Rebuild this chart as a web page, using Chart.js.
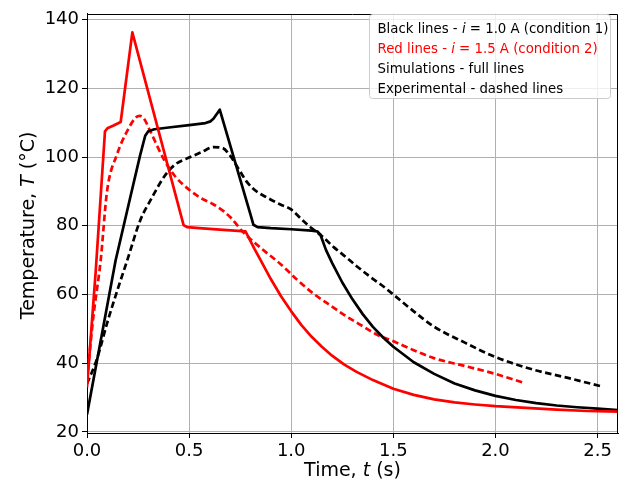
<!DOCTYPE html>
<html>
<head>
<meta charset="utf-8">
<script src="https://cdn.jsdelivr.net/npm/chart.js@4.4.0/dist/chart.umd.min.js"></script>
<style>
html,body{margin:0;padding:0;background:#fff;}
#wrap{width:627px;height:484px;position:relative;}
</style>
</head>
<body>
<div id="wrap"><canvas id="c" width="627" height="484"></canvas></div>
<script>
// ---- Data (time in s, temperature in °C) ----
const simBlackT = [0, 0.07, 0.14, 0.21, 0.26, 0.285, 0.3, 0.33, 0.4, 0.5, 0.58, 0.605, 0.62, 0.65, 0.73, 0.8, 0.815, 0.835, 0.9, 1.0, 1.1, 1.127, 1.143, 1.17, 1.2, 1.25, 1.3, 1.35, 1.4, 1.45, 1.5, 1.6, 1.7, 1.8, 1.9, 2.0, 2.1, 2.2, 2.3, 2.4, 2.5, 2.6];
const simBlackY = [25.1, 47.5, 69.9, 87.8, 100.5, 106.2, 107.5, 108.1, 108.6, 109.3, 109.9, 110.4, 111.2, 113.8, 97.6, 83.4, 80.3, 79.6, 79.3, 79.0, 78.6, 78.4, 77.4, 73.0, 69.2, 63.5, 58.6, 54.3, 50.6, 47.5, 44.8, 40.3, 36.9, 34.1, 32.1, 30.5, 29.3, 28.4, 27.7, 27.2, 26.8, 26.4];

const simRedT = [0, 0.043, 0.088, 0.1, 0.13, 0.165, 0.222, 0.473, 0.49, 0.55, 0.65, 0.776, 0.79, 0.82, 0.85, 0.9, 0.95, 1.0, 1.05, 1.1, 1.15, 1.2, 1.26, 1.32, 1.4, 1.5, 1.6, 1.7, 1.8, 1.9, 2.0, 2.15, 2.3, 2.45, 2.6];
const simRedY = [33, 67, 107.5, 108.4, 109.2, 110.2, 136.3, 80.2, 79.6, 79.3, 78.9, 78.4, 76.8, 73.3, 70.0, 64.5, 59.5, 55.1, 51.1, 47.7, 44.8, 42.2, 39.6, 37.5, 35.1, 32.6, 30.8, 29.5, 28.6, 28.0, 27.5, 27.0, 26.5, 26.1, 25.9];

const expBlackT = [0, 0.05, 0.1, 0.15, 0.2, 0.26, 0.318, 0.38, 0.433, 0.506, 0.56, 0.62, 0.665, 0.7, 0.743, 0.78, 0.808, 0.84, 0.882, 0.947, 0.996, 1.061, 1.094, 1.15, 1.208, 1.27, 1.33, 1.388, 1.45, 1.504, 1.6, 1.698, 1.85, 2.0, 2.188, 2.35, 2.523];
const expBlackY = [34, 41.5, 52, 61.5, 70.5, 81.5, 88.2, 94.5, 97.9, 100, 101.4, 102.9, 102.6, 100.5, 96.5, 93, 91.1, 89.6, 88.2, 86.2, 84.9, 81.3, 79.6, 77, 73.8, 70.8, 67.8, 65.1, 62.4, 59.8, 55.1, 50.7, 46, 41.8, 38.1, 35.8, 33.2];

const expRedT = [0, 0.03, 0.067, 0.098, 0.147, 0.196, 0.237, 0.258, 0.278, 0.31, 0.375, 0.43, 0.5, 0.56, 0.62, 0.67, 0.702, 0.767, 0.866, 0.947, 1.029, 1.11, 1.2, 1.274, 1.35, 1.421, 1.504, 1.6, 1.698, 1.85, 2.0, 2.139];
const expRedY = [35, 53, 70, 90, 100.8, 107.5, 111.4, 112, 111.3, 107.5, 99.5, 94.5, 90.5, 88, 86.2, 84.2, 82.5, 78, 72.8, 68.9, 64.3, 60.2, 56.5, 53.5, 50.8, 48.3, 46.3, 43.8, 41.5, 39.2, 36.9, 34.3];

const xTicks = [0, 0.5, 1.0, 1.5, 2.0, 2.5];
const yTicks = [20, 40, 60, 80, 100, 120, 140];

const legendLines = [
  {color: '#000000', segs: [{t: 'Black lines - '}, {t: 'i', i: true}, {t: ' = 1.0 A (condition 1)'}]},
  {color: '#ff0000', segs: [{t: 'Red lines - '}, {t: 'i', i: true}, {t: ' = 1.5 A (condition 2)'}]},
  {color: '#000000', segs: [{t: 'Simulations - full lines'}]},
  {color: '#000000', segs: [{t: 'Experimental - dashed lines'}]}
];
const xTitle = [{t: 'Time, '}, {t: 't', i: true}, {t: ' (s)'}];
const yTitle = [{t: 'Temperature, '}, {t: 'T', i: true}, {t: ' (°C)'}];

// ---- Helpers ----
const FAM = "'DejaVu Sans', sans-serif";
const toXY = (ts, ys) => ts.map((t, i) => ({x: t, y: ys[i]}));

function richWidth(ctx, segs, size) {
  let w = 0;
  for (const s of segs) {
    ctx.font = (s.i ? 'italic ' : '') + size + 'px ' + FAM;
    w += ctx.measureText(s.t).width;
  }
  return w;
}
function drawRich(ctx, x, y, segs, size, color) {
  let cx = x;
  ctx.fillStyle = color;
  ctx.textBaseline = 'alphabetic';
  ctx.textAlign = 'left';
  for (const s of segs) {
    ctx.font = (s.i ? 'italic ' : '') + size + 'px ' + FAM;
    ctx.fillText(s.t, cx, y);
    cx += ctx.measureText(s.t).width;
  }
}

const decorPlugin = {
  id: 'decor',
  afterDraw(chart) {
    const ctx = chart.ctx;
    const a = chart.chartArea;
    ctx.save();
    // top & right spines
    ctx.strokeStyle = '#000';
    ctx.lineWidth = 1;
    ctx.beginPath();
    ctx.moveTo(Math.round(a.left) + 0.5, Math.round(a.top) + 0.5);
    ctx.lineTo(Math.round(a.right) - 0.5, Math.round(a.top) + 0.5);
    ctx.lineTo(Math.round(a.right) - 0.5, Math.round(a.bottom) + 0.5);
    ctx.stroke();

    // axis titles
    const tsz = 19;
    const xw = richWidth(ctx, xTitle, tsz);
    drawRich(ctx, (a.left + a.right) / 2 - xw / 2, 476, xTitle, tsz, '#000');
    const yw = richWidth(ctx, yTitle, tsz);
    ctx.save();
    ctx.translate(34, (a.top + a.bottom) / 2 + 2);
    ctx.rotate(-Math.PI / 2);
    drawRich(ctx, -yw / 2, 0, yTitle, tsz, '#000');
    ctx.restore();

    // legend box
    const bx = 369.5, by = 14.5, bw = 241, bh = 84, r = 3;
    ctx.beginPath();
    ctx.moveTo(bx + r, by);
    ctx.lineTo(bx + bw - r, by);
    ctx.quadraticCurveTo(bx + bw, by, bx + bw, by + r);
    ctx.lineTo(bx + bw, by + bh - r);
    ctx.quadraticCurveTo(bx + bw, by + bh, bx + bw - r, by + bh);
    ctx.lineTo(bx + r, by + bh);
    ctx.quadraticCurveTo(bx, by + bh, bx, by + bh - r);
    ctx.lineTo(bx, by + r);
    ctx.quadraticCurveTo(bx, by, bx + r, by);
    ctx.closePath();
    ctx.fillStyle = 'rgba(255,255,255,0.8)';
    ctx.fill();
    ctx.strokeStyle = '#cccccc';
    ctx.lineWidth = 1;
    ctx.stroke();
    const lsz = 13.3;
    legendLines.forEach((ln, k) => {
      drawRich(ctx, 377.5, 33.3 + 20 * k, ln.segs, lsz, ln.color);
    });
    ctx.restore();
  }
};

const common = {pointRadius: 0, pointHoverRadius: 0, fill: false, borderWidth: 2.7, borderCapStyle: 'butt', borderJoinStyle: 'round'};

new Chart(document.getElementById('c'), {
  type: 'line',
  data: {
    datasets: [
      Object.assign({label: 'Simulation i = 1.5 A', data: toXY(simRedT, simRedY), borderColor: '#ff0000', tension: 0}, common),
      Object.assign({label: 'Simulation i = 1.0 A', data: toXY(simBlackT, simBlackY), borderColor: '#000000', tension: 0}, common),
      Object.assign({label: 'Experimental i = 1.5 A', data: toXY(expRedT, expRedY), borderColor: '#ff0000', borderDash: [6.5, 3.5], cubicInterpolationMode: 'monotone'}, common),
      Object.assign({label: 'Experimental i = 1.0 A', data: toXY(expBlackT, expBlackY), borderColor: '#000000', borderDash: [6.5, 3.5], cubicInterpolationMode: 'monotone'}, common)
    ]
  },
  options: {
    responsive: false,
    animation: false,
    devicePixelRatio: 1,
    layout: {padding: {top: 12, right: 9, left: 0, bottom: 0}},
    plugins: {legend: {display: false}, tooltip: {enabled: false}, title: {display: false}},
    scales: {
      x: {
        type: 'linear', min: 0, max: 2.6,
        afterBuildTicks: (s) => { s.ticks = xTicks.map(v => ({value: v})); },
        afterFit: (s) => { s.height = 51; },
        ticks: {stepSize: 0.5, includeBounds: false, autoSkip: false, maxRotation: 0, padding: 3,
                color: '#000', font: {family: FAM, size: 18}, callback: (v) => Number(v).toFixed(1)},
        grid: {color: '#b0b0b0', lineWidth: 1, tickColor: '#000', tickLength: 5, tickWidth: 1},
        border: {color: '#000', width: 1},
        title: {display: false}
      },
      y: {
        type: 'linear', min: 19.7, max: 141.7,
        afterBuildTicks: (s) => { s.ticks = yTicks.map(v => ({value: v})); },
        afterFit: (s) => { s.width = 87; },
        ticks: {stepSize: 20, includeBounds: false, autoSkip: false, padding: 3,
                color: '#000', font: {family: FAM, size: 18}, callback: (v) => String(v)},
        grid: {color: '#b0b0b0', lineWidth: 1, tickColor: '#000', tickLength: 5, tickWidth: 1},
        border: {color: '#000', width: 1},
        title: {display: false}
      }
    }
  },
  plugins: [decorPlugin]
});
</script>
</body>
</html>
